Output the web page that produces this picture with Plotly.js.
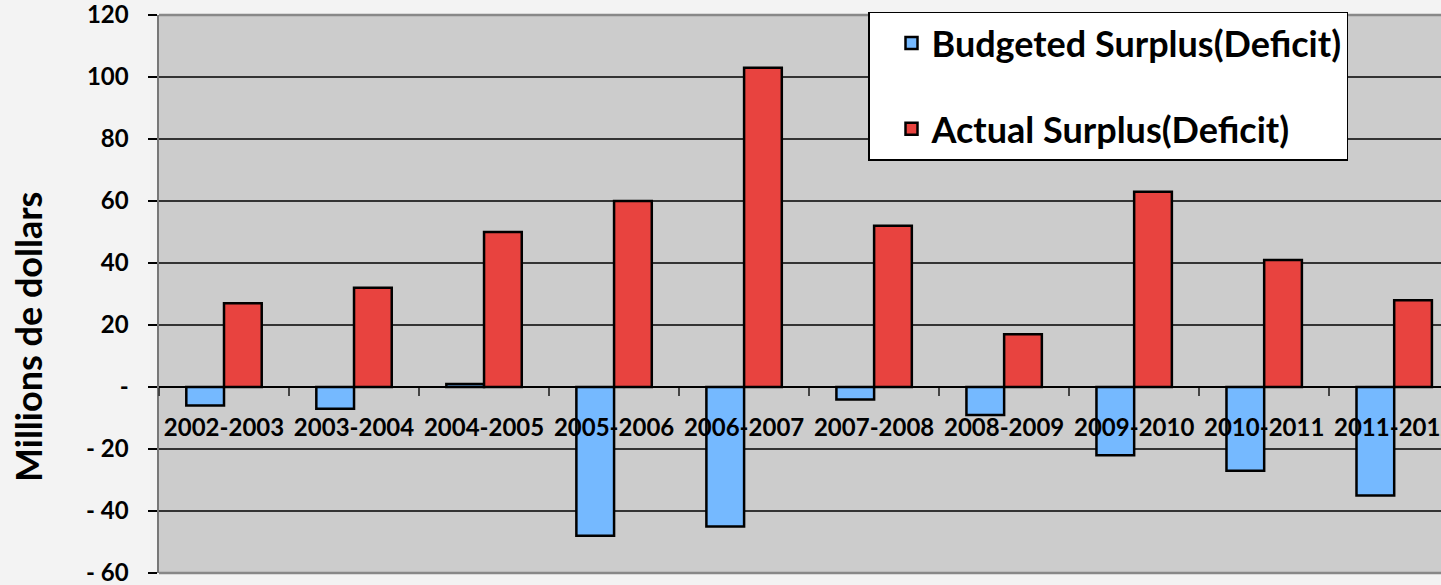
<!DOCTYPE html>
<html><head><meta charset="utf-8">
<script src="https://cdn.plot.ly/plotly-3.0.1.min.js"></script>
<style>html,body{margin:0;padding:0;background:#f3f3f3;}#chart{width:1441px;height:585px;}</style>
</head><body><div id="chart"></div>
<script>
const categories = ['2002-2003','2003-2004','2004-2005','2005-2006','2006-2007','2007-2008','2008-2009','2009-2010','2010-2011','2011-2012'];
const budgeted = [-6, -7, 1, -48, -45, -4, -9, -22, -27, -35];
const actual = [27, 32, 50, 60, 103, 52, 17, 63, 41, 28];
const yTickVals = [-60, -40, -20, 0, 20, 40, 60, 80, 100, 120];
const yTickText = ['- 60', '- 40', '- 20', '-', '20', '40', '60', '80', '100', '120'];
const yTitle = 'Millions de dollars';

const fontFam = 'Lato, "Open Sans", sans-serif';
const traces = [
  {type:'bar', name:'Budgeted Surplus(Deficit)', x:categories, y:budgeted, legendgroup:'a',
   marker:{color:'#75b9ff', line:{color:'#000', width:2.5}}},
  {type:'bar', name:'Actual Surplus(Deficit)', x:categories, y:actual, legendgroup:'b',
   marker:{color:'#e8433f', line:{color:'#000', width:2.5}}}
];
const layout = {
  width:1441, height:585,
  margin:{l:159, r:0, t:15, b:12},
  paper_bgcolor:'#f3f3f3', plot_bgcolor:'#cccccc',
  barmode:'group', bargap:0.42, bargroupgap:0,
  font:{family:fontFam, color:'#000'},
  xaxis:{type:'category', range:[-0.5, 9.36], anchor:'free', position:186/558,
    showline:false, showgrid:false, zeroline:false,
    ticks:'outside', tickson:'boundaries', ticklen:8, tickcolor:'#444', tickwidth:1.5,
    ticklabelstandoff:24,
    tickfont:{size:24, family:fontFam, weight:'bold', color:'#000'}},
  yaxis:{range:[-60,120], tickvals:yTickVals, ticktext:yTickText,
    showgrid:true, gridcolor:'#333', gridwidth:1.2,
    zeroline:true, zerolinecolor:'#000', zerolinewidth:1.5,
    showline:true, linecolor:'#777', linewidth:2.5,
    ticks:'outside', ticklen:9, tickcolor:'#000', tickwidth:1.5,
    ticklabelstandoff:14, ticklabeloverflow:'allow',
    tickfont:{size:24, family:fontFam, weight:'bold', color:'#000'}},
  annotations:[
    {text:yTitle, xref:'paper', yref:'paper', x:0, y:(573-337)/558, xshift:-131, showarrow:false,
     textangle:-90, xanchor:'center', yanchor:'middle',
     font:{size:36, family:fontFam, weight:'bold', color:'#000'}}
  ],
  legend:{x:(868-159)/1282, y:1.006, xanchor:'left', yanchor:'top',
    bgcolor:'#ffffff', bordercolor:'#000', borderwidth:1.5,
    traceorder:'grouped', tracegroupgap:36,
    itemwidth:30, indentation:22,
    font:{size:36, family:fontFam, weight:'bold', color:'#000'}},
  shapes:[
    {type:'line', xref:'paper', yref:'paper', x0:0, x1:1, y0:1, y1:1, line:{color:'#888', width:2.5}},
    {type:'line', xref:'paper', yref:'paper', x0:0, x1:1, y0:0, y1:0, line:{color:'#888', width:2.5}}
  ],
  showlegend:true
};
Plotly.newPlot('chart', traces, layout, {displayModeBar:false, staticPlot:true});
</script></body></html>
